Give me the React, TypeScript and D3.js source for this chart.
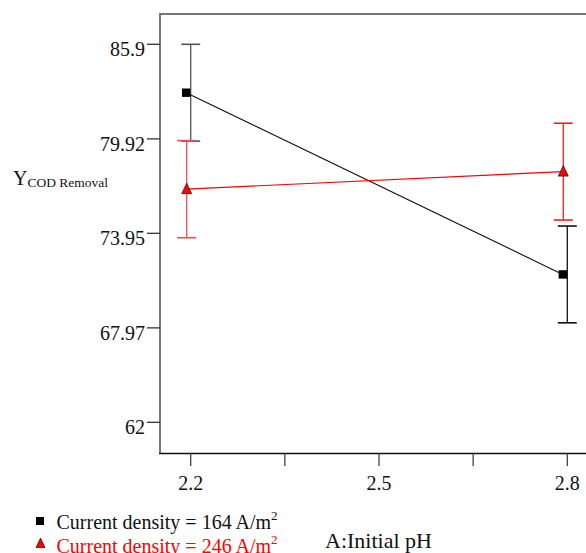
import React from "react";
import * as d3 from "d3";

const phLevels = [2.2, 2.8];
const xTicks = [2.2, 2.35, 2.5, 2.65, 2.8];
const xTickLabels = ["2.2", "", "2.5", "", "2.8"];
const yTicks = [62, 67.97, 73.95, 79.92, 85.9];
const yTickLabels = ["62", "67.97", "73.95", "79.92", "85.9"];
const cd164 = [82.84, 71.35];
const cd246 = [76.74, 77.85];
const errHalf164 = [3.06, 3.06];
const errHalf246 = [3.07, 3.06];

const W = 586;
const H = 553;
const plotLeft = 160;
const plotTop = 14;
const plotBottom = 453.5;
const FONT = "'Liberation Serif', 'Times New Roman', serif";

export default function App() {
  const x = d3.scaleLinear().domain([2.2, 2.8]).range([190.7, 567.3]);
  const y = d3.scaleLinear().domain([62, 85.9]).range([422.3, 44.3]);
  const line = d3
    .line<number>()
    .x((_, i) => x(phLevels[i]) - 4.5)
    .y((d) => y(d));

  const errBar = (vals: number[], errs: number[], color: string[], off: number) =>
    vals.map((v, i) => {
      const cx = x(phLevels[i]) + off;
      const y1 = y(v + errs[i]);
      const y2 = y(v - errs[i]);
      return (
        <g key={i} stroke={color[i]} strokeWidth={1.3}>
          <line x1={cx} x2={cx} y1={y1} y2={y2} />
          <line x1={cx - 9.5} x2={cx + 9.5} y1={y1} y2={y1} strokeWidth={1.6} />
          <line x1={cx - 9.5} x2={cx + 9.5} y1={y2} y2={y2} strokeWidth={1.6} />
        </g>
      );
    });

  const tri = (cx: number, cy: number, s: number) =>
    `M${cx},${cy - s * 0.6} L${cx + s / 2},${cy + s * 0.45} L${cx - s / 2},${cy + s * 0.45} Z`;

  return (
    <svg
      width={W}
      height={H}
      style={{ position: "absolute", left: 0, top: 0, background: "#fff" }}
      fontFamily={FONT}
    >
      <rect x={0} y={0} width={W} height={H} fill="#fff" />
      {/* frame */}
      <line x1={plotLeft} x2={W + 10} y1={plotTop} y2={plotTop} stroke="#777" strokeWidth={2} />
      <line x1={plotLeft} x2={plotLeft} y1={plotTop - 1} y2={plotBottom} stroke="#777" strokeWidth={2} />
      <line x1={plotLeft - 1} x2={W + 10} y1={plotBottom} y2={plotBottom} stroke="#111" strokeWidth={1.6} />

      {/* y ticks */}
      {yTicks.map((t, i) => (
        <g key={i}>
          <line x1={plotLeft - 13} x2={plotLeft} y1={y(t)} y2={y(t)} stroke="#333" strokeWidth={1.3} />
          <text x={145} y={y(t) + 12} textAnchor="end" fontSize={20} fill="#111">
            {yTickLabels[i]}
          </text>
        </g>
      ))}

      {/* x ticks */}
      {xTicks.map((t, i) => (
        <g key={i}>
          <line x1={x(t)} x2={x(t)} y1={plotBottom} y2={466} stroke="#444" strokeWidth={1.3} />
          {xTickLabels[i] && (
            <text x={x(t)} y={490} textAnchor="middle" fontSize={20} fill="#111">
              {xTickLabels[i]}
            </text>
          )}
        </g>
      ))}

      {/* y label */}
      <text x={13} y={185} fontSize={20} fill="#111">
        Y
        <tspan fontSize={13.5} dy={1.5}>COD Removal</tspan>
      </text>

      {/* error bars */}
      {errBar(cd164, errHalf164, ["#555", "#111"], 0)}
      {errBar(cd246, errHalf246, ["#f05050", "#ff1a1a"], -4)}

      {/* lines */}
      <path d={line(cd164) || ""} fill="none" stroke="#111" strokeWidth={1.1} />
      <path d={line(cd246) || ""} fill="none" stroke="#ff0000" strokeWidth={1.1} />

      {/* markers */}
      {cd164.map((v, i) => (
        <rect key={i} x={x(phLevels[i]) - 4.5 - 4.2} y={y(v) - 4.2} width={8.4} height={8.4} fill="#000" />
      ))}
      {cd246.map((v, i) => (
        <path key={i} d={tri(x(phLevels[i]) - 4, y(v), 10)} fill="#ff0000" stroke="#222" strokeWidth={0.8} />
      ))}

      {/* legend */}
      <rect x={36} y={517} width={8} height={8} fill="#000" />
      <text x={56.5} y={529} fontSize={20} fill="#111">
        Current density = 164 A/m
        <tspan fontSize={13} dy={-9}>2</tspan>
      </text>
      <path d={tri(40.5, 543.5, 9)} fill="#ff0000" stroke="#222" strokeWidth={0.8} />
      <text x={56.5} y={553} fontSize={20} fill="#ff0000">
        Current density = 246 A/m
        <tspan fontSize={13} dy={-9}>2</tspan>
      </text>

      {/* x title */}
      <text x={325} y={548} fontSize={22} fill="#111">
        A:Initial pH
      </text>
    </svg>
  );
}
